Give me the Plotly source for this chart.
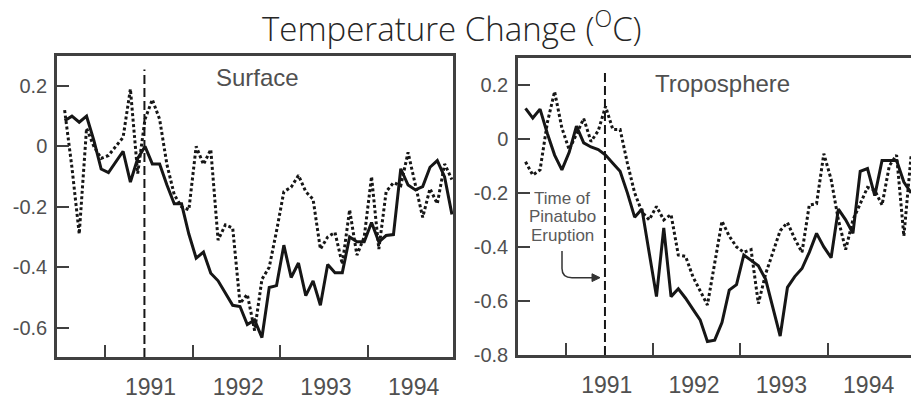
import plotly.graph_objects as go

# ---- data (monthly, July 1990 .. Dec 1994) ----
START = 1990.54
N = 54
T = [START + i / 12 for i in range(N)]

SURF_SOLID = [0.085, 0.10, 0.08, 0.10, 0.02, -0.075, -0.087, -0.05, -0.016, -0.118,
              -0.04, 0.0, -0.058, -0.058, -0.128, -0.19, -0.19, -0.29, -0.37, -0.35,
              -0.42, -0.445, -0.486, -0.526, -0.53, -0.59, -0.575, -0.633, -0.467, -0.461,
              -0.327, -0.434, -0.386, -0.494, -0.445, -0.526, -0.391, -0.418, -0.418, -0.30,
              -0.316, -0.316, -0.252, -0.316, -0.295, -0.292, -0.074, -0.128, -0.144, -0.133,
              -0.069, -0.047, -0.101, -0.225]
SURF_DOTTED = [0.12, -0.07, -0.29, 0.06, 0.0, -0.04, -0.03, 0.0, 0.03, 0.19,
               -0.09, 0.09, 0.155, 0.09, -0.06, -0.16, -0.20, -0.21, 0.0, -0.06,
               -0.01, -0.31, -0.26, -0.27, -0.52, -0.49, -0.61, -0.44, -0.40, -0.28,
               -0.15, -0.135, -0.096, -0.15, -0.175, -0.34, -0.30, -0.285, -0.39, -0.21,
               -0.36, -0.30, -0.10, -0.34, -0.15, -0.12, -0.13, -0.02, -0.13, -0.235,
               -0.14, -0.19, -0.058, -0.11]
TROP_SOLID = [0.113, 0.077, 0.11, 0.02, -0.06, -0.115, -0.05, 0.047, -0.015, -0.03,
              -0.04, -0.06, -0.09, -0.12, -0.20, -0.29, -0.26, -0.42, -0.584, -0.33,
              -0.584, -0.555, -0.59, -0.63, -0.67, -0.75, -0.745, -0.68, -0.56, -0.54,
              -0.43, -0.45, -0.47, -0.52, -0.62, -0.73, -0.55, -0.51, -0.48, -0.42,
              -0.35, -0.40, -0.44, -0.26, -0.30, -0.35, -0.12, -0.11, -0.21, -0.08,
              -0.08, -0.08, -0.16, -0.20]
TROP_DOTTED = [-0.085, -0.134, -0.115, 0.06, 0.175, 0.04, -0.04, 0.02, 0.075, -0.01,
               0.03, 0.12, 0.035, 0.035, -0.09, -0.20, -0.27, -0.30, -0.25, -0.30,
               -0.28, -0.43, -0.435, -0.51, -0.56, -0.615, -0.46, -0.305, -0.36, -0.40,
               -0.42, -0.41, -0.61, -0.50, -0.42, -0.34, -0.31, -0.37, -0.42, -0.245,
               -0.24, -0.055, -0.15, -0.30, -0.41, -0.30, -0.24, -0.18, -0.19, -0.245,
               -0.10, -0.06, -0.36, -0.06]

ERUPTION = 1991.45
YEARS = [1991, 1992, 1993, 1994]
YEAR_LABELS = ["1991", "1992", "1993", "1994"]
Y_TICKS_SURF = [0.2, 0, -0.2, -0.4, -0.6]
Y_TICKS_TROP = [0.2, 0, -0.2, -0.4, -0.6, -0.8]
NOTE_LINES = ["Time of", "Pinatubo", "Eruption"]

W, H = 911, 400
INK = "#161616"
FRAME = "#404040"
LABEL = "#505050"
SANS = "Liberation Sans, Arial, sans-serif"
AXFONT = dict(family=SANS, size=20, color=LABEL)
XFONT = dict(family=SANS, size=23, color=LABEL)

fig = go.Figure()
for xa, ya, solid, dotted in (("x", "y", SURF_SOLID, SURF_DOTTED),
                              ("x2", "y2", TROP_SOLID, TROP_DOTTED)):
    fig.add_trace(go.Scatter(x=T, y=dotted, mode="lines", xaxis=xa, yaxis=ya,
                             line=dict(color=INK, width=3, dash="3px,2.5px"),
                             showlegend=False))
    fig.add_trace(go.Scatter(x=T, y=solid, mode="lines", xaxis=xa, yaxis=ya,
                             line=dict(color=INK, width=3), showlegend=False))


def xaxis(domain, rng, offset):
    return dict(domain=domain, range=rng, showgrid=False, zeroline=False,
                showline=True, mirror=True, linecolor=FRAME, linewidth=2.5,
                tickmode="array", tickvals=[y + offset for y in YEARS], ticktext=YEAR_LABELS,
                ticks="", tickfont=XFONT, ticklabelstandoff=8,
                minor=dict(tickmode="array", tickvals=YEARS, ticks="inside",
                           ticklen=12, tickwidth=2, tickcolor=FRAME))


def yaxis(domain, rng, vals, anchor, mirror):
    return dict(domain=domain, range=rng, showgrid=False, zeroline=False,
                showline=True, mirror=mirror, linecolor=FRAME, linewidth=2.5,
                tickmode="array", tickvals=vals, ticktext=[("0" if v == 0 else f"{v:g}") for v in vals],
                ticks="inside", ticklen=12, tickwidth=2, tickcolor=FRAME,
                tickfont=AXFONT, ticklabelstandoff=3, anchor=anchor)


fig.update_layout(
    width=W, height=H, margin=dict(l=0, r=0, t=0, b=0),
    paper_bgcolor="white", plot_bgcolor="white",
    xaxis=dict(**xaxis([57 / W, 453 / W], [1990.453, 1994.969], 0.52), anchor="y"),
    yaxis=yaxis([1 - 367 / H, 1 - 58 / H], [-0.697, 0.298], Y_TICKS_SURF, "x", True),
    xaxis2=dict(**xaxis([518 / W, 1.0], [1990.454, 1994.955], 0.47), anchor="y2"),
    yaxis2=yaxis([1 - 365 / H, 1 - 60 / H], [-0.80, 0.298], Y_TICKS_TROP, "x2", False),
)

# eruption markers
for xr, yr, top, bot in (("x", "y", 0.255, -0.697), ("x2", "y2", 0.25, -0.80)):
    fig.add_shape(type="line", xref=xr, yref=yr, x0=ERUPTION, x1=ERUPTION, y0=bot, y1=top,
                  line=dict(color=INK, width=2, dash="9px,4px"))

# title and panel labels
fig.add_annotation(text="Temperature Change (<sup>O</sup>C)", xref="paper", yref="paper",
                   x=452 / W, y=1 - 27 / H, showarrow=False, xanchor="center", yanchor="middle",
                   font=dict(family="Open Sans, sans-serif", size=33, color="#262626", weight=300))
fig.add_annotation(text="Surface", xref="paper", yref="paper", x=257 / W, y=1 - 80 / H,
                   showarrow=False, xanchor="center", yanchor="middle",
                   font=dict(family=SANS, size=24, color=LABEL))
fig.add_annotation(text="Troposphere", xref="paper", yref="paper", x=722 / W, y=1 - 86 / H,
                   showarrow=False, xanchor="center", yanchor="middle",
                   font=dict(family=SANS, size=24, color=LABEL))
for k, line in enumerate(NOTE_LINES):
    fig.add_annotation(text=line, xref="paper", yref="paper",
                       x=562 / W, y=1 - (204 + 19 * k) / H, showarrow=False,
                       xanchor="center", yanchor="middle",
                       font=dict(family=SANS, size=17, color="#5a5a5a"))
# curved arrow with head
fig.add_shape(type="path", xref="paper", yref="paper",
              path=f"M {562/W},{1-258/H} L {562/W},{1-276/H} Q {562/W},{1-285.5/H} {572/W},{1-285.5/H} L {594/W},{1-285.5/H}",
              line=dict(color="#333", width=1.5))
fig.add_shape(type="path", xref="paper", yref="paper",
              path=f"M {600/W},{1-285.5/H} L {592/W},{1-281.5/H} L {592/W},{1-289.5/H} Z",
              line=dict(color="#333", width=1), fillcolor="#333")

fig.write_html("out.html")
